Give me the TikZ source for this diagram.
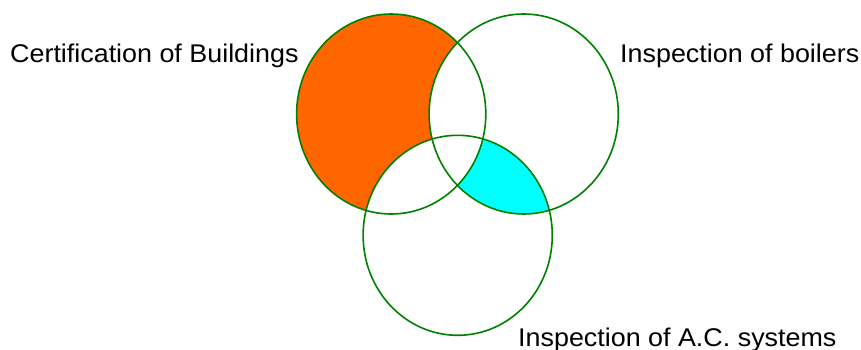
\documentclass[tikz,border=0pt]{standalone}
\usepackage{fontspec}
\setmainfont[FakeStretch=1.05]{Liberation Sans}
\definecolor{vgreen}{HTML}{008000}
\definecolor{vorange}{HTML}{FF6600}
\definecolor{vcyan}{HTML}{00FFFF}
\begin{document}
\begin{tikzpicture}[x=1pt,y=-1pt,
  outline/.style={draw=vgreen,line width=1.6pt},
  lbl/.style={inner sep=0pt,anchor=base west,font=\fontsize{25.6}{30}\selectfont}]
\useasboundingbox (0,0) rectangle (861,349);
\def\circA{(391.2,114) ellipse [x radius=94.6,y radius=100]}
\def\circB{(523.7,114) ellipse [x radius=94.6,y radius=100]}
\def\circC{(457.7,235.3) ellipse [x radius=94.6,y radius=100]}
% fills
\fill[vorange] \circA;
\fill[white] \circB;
\fill[white] \circC;
\begin{scope}
  \clip \circB;
  \fill[vcyan] \circC;
  \clip \circC;
  \fill[white] \circA;
\end{scope}
% outlines
\draw[outline] \circA;
\draw[outline] \circB;
\draw[outline] \circC;
% labels
\node[lbl] (cert) at (10,62.3) {Certification of Buildings};
\node[lbl] (boil) at (620,62.3) {Inspection of boilers};
\node[lbl] (ac) at (518,346) {Inspection of A.C. systems};
\end{tikzpicture}
\end{document}
